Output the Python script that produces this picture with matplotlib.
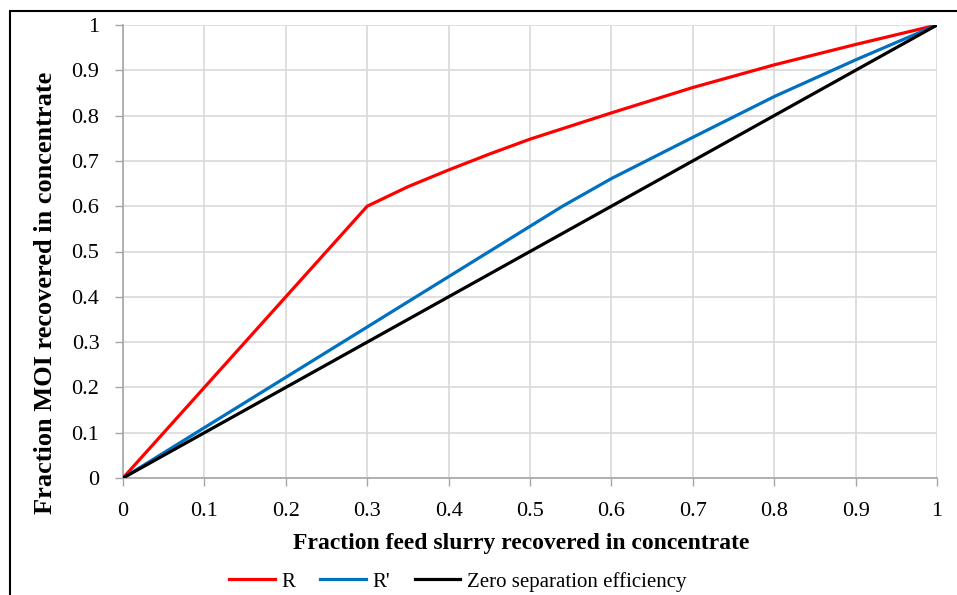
import numpy as np
import matplotlib.pyplot as plt
from matplotlib.patches import Rectangle

plt.rcParams['font.family'] = ['Liberation Serif', 'DejaVu Serif']

# R curve
r_x = [0, 0.3, 0.35, 0.4, 0.45, 0.5, 0.6, 0.7, 0.8, 0.9, 1.0]
r_y = [0, 0.6, 0.643, 0.68, 0.715, 0.748, 0.806, 0.862, 0.912, 0.957, 1.0]

# R' curve
rp_x = [0, 0.54, 0.6, 0.7, 0.8, 0.9, 1.0]
rp_y = [0, 0.6, 0.661, 0.752, 0.842, 0.923, 1.0]

# zero separation efficiency
z_x = [0, 1]
z_y = [0, 1]

ticks = np.round(np.arange(0, 1.01, 0.1), 1)
tick_labels = ['0'] + ['%.1f' % t for t in ticks[1:-1]] + ['1']

fig = plt.figure(figsize=(9.57, 5.95), dpi=100)
ax = fig.add_axes([123/957, 117/595, 814/957, 453/595])

ax.plot(r_x, r_y, color='#ff0000', lw=2.3, label='R', zorder=3)
ax.plot(rp_x, rp_y, color='#0070c0', lw=2.3, label="R'", zorder=3)
ax.plot(z_x, z_y, color='#000000', lw=2.3, label='Zero separation efficiency', zorder=3)

ax.set_xlim(0, 1)
ax.set_ylim(0, 1)
ax.set_xticks(ticks)
ax.set_yticks(ticks)
ax.set_xticklabels(tick_labels)
ax.set_yticklabels(tick_labels)
ax.tick_params(labelsize=16, length=6, width=1, color='#a6a6a6')
ax.tick_params(axis='y', pad=11)
ax.tick_params(axis='x', pad=11)
ax.grid(True, color='#d9d9d9', lw=1.2)
ax.set_axisbelow(True)
for s in ['top', 'right']:
    ax.spines[s].set_visible(False)
for s in ['left', 'bottom']:
    ax.spines[s].set_color('#a6a6a6')
    ax.spines[s].set_linewidth(1.2)

ax.set_xlabel('Fraction feed slurry recovered in concentrate', fontsize=17,
              fontweight='bold', va='center')
ax.xaxis.set_label_coords(0.4896, -0.1435)
ax.set_ylabel('Fraction MOI recovered in concentrate', fontsize=19,
              fontweight='bold', va='center')
ax.yaxis.set_label_coords(-0.0958, 0.408)

ax.legend(loc='center', bbox_to_anchor=(0.411, -0.229), ncol=3, frameon=False,
          fontsize=15, handlelength=2.2, columnspacing=1.2, handletextpad=0.3)

# chart border (partially cropped)
fig.add_artist(Rectangle((10/957, -0.5), 2, (595 - 11)/595 + 0.5,
                         transform=fig.transFigure, fill=False,
                         edgecolor='black', lw=1.5))

fig.savefig('out.png', dpi=100)
